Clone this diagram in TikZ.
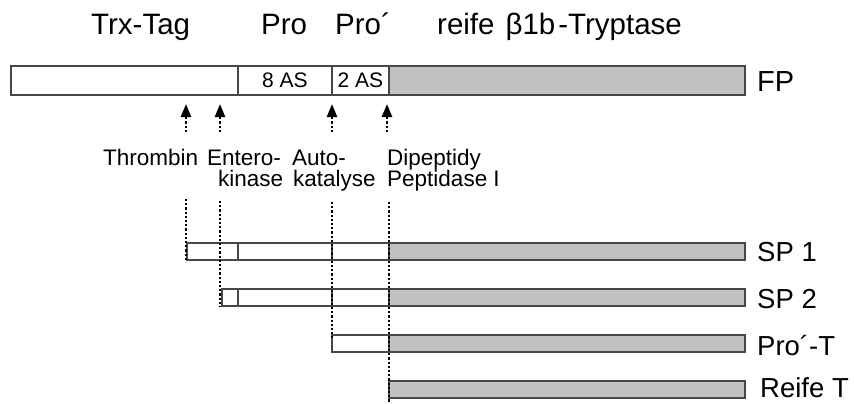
\documentclass[tikz,border=0pt]{standalone}
\usepackage{fontspec}
\setmainfont{Liberation Sans}
\usetikzlibrary{arrows.meta}

\begin{document}
\begin{tikzpicture}[x=1pt,y=-1pt,
  seg/.style={draw=black!72, line width=1.2pt, fill=white, inner sep=0pt,
              outer sep=0pt, anchor=north west, font=\fontsize{21}{22}\selectfont},
  mature/.style={seg, fill=black!24},
  fpseg/.style={minimum height=29pt},
  smallseg/.style={minimum height=17pt},
  cut/.style={line width=2.4pt, dash pattern=on 2.2pt off 2pt, black},
  cutarrow/.style={cut, -{Triangle[width=10pt,length=13pt]}},
  head/.style={anchor=base west, inner sep=0pt, font=\fontsize{29.5}{31}\selectfont},
  enzyme/.style={anchor=base west, inner sep=0pt, font=\fontsize{22.5}{24}\selectfont},
  tag/.style={anchor=base west, inner sep=0pt, font=\fontsize{27.5}{29}\selectfont}]

\useasboundingbox (0,0) rectangle (854,404);

% region headings
\node[head] (h-trx)  at (91,35)  {Trx-Tag};
\node[head] (h-pro)  at (261,35) {Pro};
\node[head] (h-prop) at (335,35) {Pro´};
\node[head] (h-mat)  at (437,35) {reife\hspace{11pt}β1b\hspace{3pt}-Tryptase};

% fusion protein FP
\node[seg, fpseg, minimum width=227pt] (fp-trx)  at (11,66)  {};
\node[seg, fpseg, minimum width=94pt]  (fp-pro)  at (238,66) {8 AS};
\node[seg, fpseg, minimum width=57pt]  (fp-prop) at (332,66) {2 AS};
\node[mature, fpseg, minimum width=356pt] (fp-mat) at (389,66) {};
\node[tag, font=\fontsize{29}{31}\selectfont] (l-fp) at (757,92) {FP};

% cleavage sites
\coordinate (a1-tail) at (186,132); \coordinate (a1-tip) at (186,104);
\coordinate (a2-tail) at (220,132); \coordinate (a2-tip) at (220,104);
\coordinate (a3-tail) at (332,132); \coordinate (a3-tip) at (332,104);
\coordinate (a4-tail) at (387,132); \coordinate (a4-tip) at (387,104);
\draw[cutarrow] (a1-tail) -- (a1-tip);
\draw[cutarrow] (a2-tail) -- (a2-tip);
\draw[cutarrow] (a3-tail) -- (a3-tip);
\draw[cutarrow] (a4-tail) -- (a4-tip);

% proteases
\node[enzyme] (e-thr)  at (103,165)   {Thrombin};
\node[enzyme] (e-ent1) at (207,165)   {Entero-};
\node[enzyme] (e-ent2) at (218,186.5) {kinase};
\node[enzyme] (e-aut1) at (292,165)   {Auto-};
\node[enzyme] (e-aut2) at (293,186.5) {katalyse};
\node[enzyme] (e-dpp1) at (387,165)   {Dipeptidy};
\node[enzyme] (e-dpp2) at (387,186.5) {Peptidase I};

% SP 1
\node[seg, smallseg, minimum width=51pt]  (sp1-trx)  at (187,243) {};
\node[seg, smallseg, minimum width=94pt]  (sp1-pro)  at (238,243) {};
\node[seg, smallseg, minimum width=57pt]  (sp1-prop) at (332,243) {};
\node[mature, smallseg, minimum width=356pt] (sp1-mat) at (389,243) {};
\node[tag] (l-sp1) at (757,261) {SP 1};

% SP 2
\node[seg, smallseg, minimum width=16pt]  (sp2-trx)  at (222,289) {};
\node[seg, smallseg, minimum width=94pt]  (sp2-pro)  at (238,289) {};
\node[seg, smallseg, minimum width=57pt]  (sp2-prop) at (332,289) {};
\node[mature, smallseg, minimum width=356pt] (sp2-mat) at (389,289) {};
\node[tag] (l-sp2) at (757,308) {SP 2};

% Pro'-T
\node[seg, smallseg, minimum width=57pt]  (pt-prop) at (332,335) {};
\node[mature, smallseg, minimum width=356pt] (pt-mat) at (389,335) {};
\node[tag] (l-pt) at (757,355) {Pro´-T};

% mature tryptase
\node[mature, smallseg, minimum width=356pt] (rt-mat) at (389,381) {};
\node[tag] (l-rt) at (760,397) {Reife T};

% cut positions carried down to the products
\coordinate (c1-top) at (186,199); \coordinate (c1-bot) at (186,262);
\coordinate (c2-top) at (220,201); \coordinate (c2-bot) at (220,307);
\coordinate (c3-top) at (332,202); \coordinate (c3-bot) at (332,338);
\coordinate (c4-top) at (389,202); \coordinate (c4-bot) at (389,404);
\draw[cut] (c1-top) -- (c1-bot);
\draw[cut] (c2-top) -- (c2-bot);
\draw[cut] (c3-top) -- (c3-bot);
\draw[cut] (c4-top) -- (c4-bot);
\end{tikzpicture}
\end{document}
